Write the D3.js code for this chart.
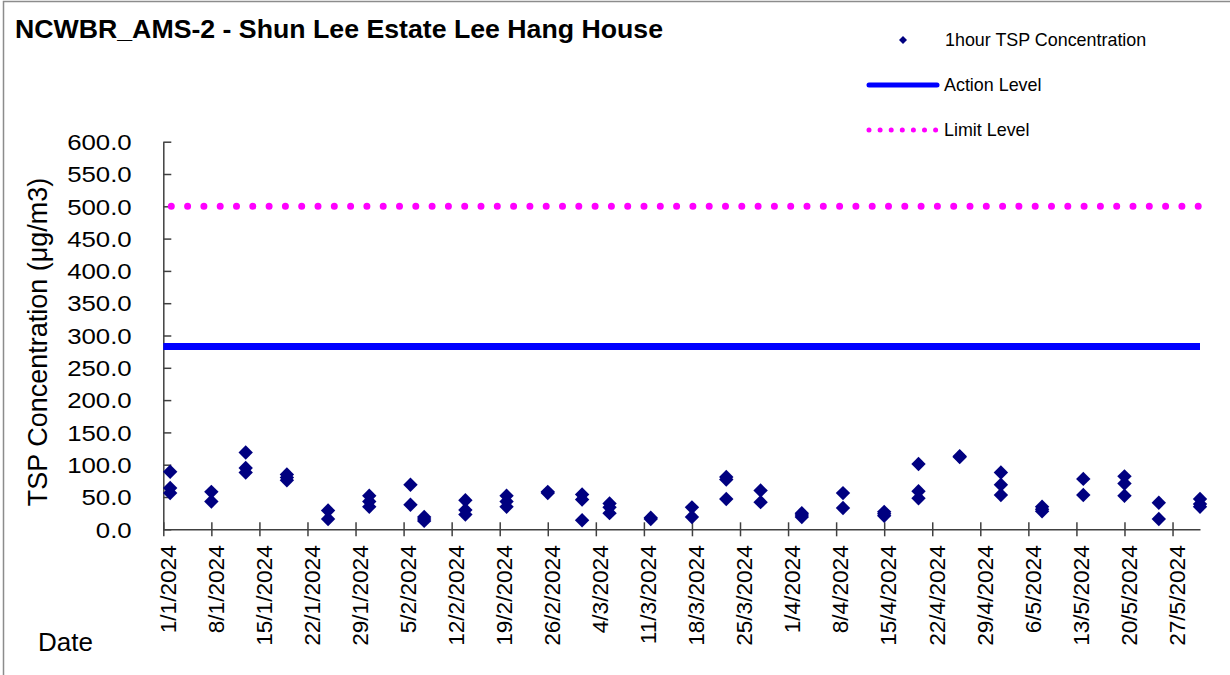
<!DOCTYPE html>
<html>
<head>
<meta charset="utf-8">
<script src="https://cdn.jsdelivr.net/npm/d3@7"></script>
<style>
  body { margin: 0; background: #fff; }
  svg text { font-family: "Liberation Sans", Arial, sans-serif; fill: #000; }
</style>
</head>
<body>
<div id="chart"></div>
<script>
// Width and height
var w = 1230;
var h = 675;

// sampling days and the 1-hour TSP readings of each day (ug/m3)
var sampleDates = ["2024-01-02", "2024-01-08", "2024-01-13", "2024-01-19", "2024-01-25", "2024-01-31",
                   "2024-02-06", "2024-02-08", "2024-02-14", "2024-02-20", "2024-02-26", "2024-03-02",
                   "2024-03-06", "2024-03-12", "2024-03-18", "2024-03-23", "2024-03-28", "2024-04-03",
                   "2024-04-09", "2024-04-15", "2024-04-20", "2024-04-26", "2024-05-02", "2024-05-08",
                   "2024-05-14", "2024-05-20", "2024-05-25", "2024-05-31"];
var tspValues = [[89, 64, 56], [58, 43], [119, 95, 88], [85, 80, 76], [29, 16], [52, 43, 35],
                 [69, 38], [19, 16, 13], [45, 30, 23], [52, 43, 35], [58, 56], [54, 46, 14],
                 [40, 34, 25], [18, 16], [34, 19], [81, 77, 47], [60, 42], [25, 22, 19],
                 [56, 33], [27, 24, 21], [101, 59, 48], [113, 112], [88, 69, 53], [35, 31, 28],
                 [78, 53], [82, 71, 52], [41, 16], [47, 39, 35]];
var actionLevel = 283;
var limitLevel = 500;
var xDomain = ["2024-01-01", "2024-05-31"];
var yTicks = [0, 50, 100, 150, 200, 250, 300, 350, 400, 450, 500, 550, 600];

var parseDate = d3.timeParse("%Y-%m-%d");

var points = [];
sampleDates.forEach(function(d, i) {
    tspValues[i].forEach(function(v) {
        points.push({date: parseDate(d), value: v});
    });
});

// Scales
var xScale = d3.scaleTime()
    .domain(xDomain.map(parseDate))
    .range([163.3, 1200]);

var yScale = d3.scaleLinear()
    .domain([0, 600])
    .range([529.3, 141.7]);

var svg = d3.select("#chart")
    .append("svg")
    .attr("width", w)
    .attr("height", h);

// chart border
svg.append("rect")
    .attr("x", 3.5).attr("y", 1.5)
    .attr("width", 1240).attr("height", 700)
    .attr("fill", "none")
    .attr("stroke", "#8c8c8c")
    .attr("stroke-width", 1.5);

// Title
svg.append("text")
    .attr("x", 15).attr("y", 38)
    .attr("font-size", "26.7px")
    .attr("font-weight", "bold")
    .text("NCWBR_AMS-2 - Shun Lee Estate Lee Hang House");

// Y axis
var yAxis = d3.axisLeft(yScale)
    .tickValues(yTicks)
    .tickSizeInner(-8)
    .tickSizeOuter(0)
    .tickFormat(d3.format(".1f"));

var gy = svg.append("g")
    .attr("transform", "translate(" + xScale.range()[0] + ",0)")
    .call(yAxis);
gy.select(".domain").attr("stroke", "#404040").attr("stroke-width", 1.5);
gy.selectAll(".tick line").attr("stroke", "#404040").attr("stroke-width", 1.5);
gy.selectAll(".tick text")
    .attr("x", null)
    .attr("dy", "0.36em")
    .attr("transform", "translate(-31.6,0) scale(1.2,1)")
    .attr("font-size", "21.5px")
    .attr("font-family", null)
    .attr("fill", "#000");

// X axis
var xAxis = d3.axisBottom(xScale)
    .ticks(d3.timeMonday.every(1))
    .tickSizeInner(7)
    .tickSizeOuter(0)
    .tickPadding(16)
    .tickFormat(d3.timeFormat("%-d/%-m/%Y"));

var gx = svg.append("g")
    .attr("transform", "translate(0," + yScale(0) + ")")
    .call(xAxis);
gx.select(".domain").attr("stroke", "#404040").attr("stroke-width", 1.5);
gx.selectAll(".tick line")
    .attr("y1", -7)
    .attr("stroke", "#404040")
    .attr("stroke-width", 1.5);
gx.selectAll(".tick text")
    .attr("font-size", "22.6px")
    .attr("font-family", null)
    .attr("fill", "#000")
    .attr("text-anchor", "end")
    .attr("transform", "rotate(-90)")
    .attr("x", -16)
    .attr("y", 0)
    .attr("dy", "0.52em");

// Axis titles
svg.append("text")
    .attr("transform", "translate(47,342) rotate(-90)")
    .attr("text-anchor", "middle")
    .attr("font-size", "27px")
    .text("TSP Concentration (\u03bcg/m3)");

svg.append("text")
    .attr("x", 38).attr("y", 651)
    .attr("font-size", "26px")
    .text("Date");

// Limit level (dotted)
svg.append("line")
    .attr("x1", xScale.range()[0] + 8).attr("x2", xScale.range()[1])
    .attr("y1", yScale(limitLevel)).attr("y2", yScale(limitLevel))
    .attr("stroke", "#ff00ff")
    .attr("stroke-width", 7)
    .attr("stroke-linecap", "round")
    .attr("stroke-dasharray", "0,16.3");

// Action level
svg.append("line")
    .attr("x1", xScale.range()[0]).attr("x2", xScale.range()[1])
    .attr("y1", yScale(actionLevel)).attr("y2", yScale(actionLevel))
    .attr("stroke", "#0000ff")
    .attr("stroke-width", 7);

// Points
function diamond(r) {
    return "M0," + (-r) + "L" + r + ",0L0," + r + "L" + (-r) + ",0Z";
}

svg.selectAll("path.pt")
   .data(points)
   .enter()
   .append("path")
   .attr("class", "pt")
   .attr("d", diamond(7.2))
   .attr("transform", function(d) {
        return "translate(" + xScale(d.date) + "," + yScale(d.value) + ")";
   })
   .attr("fill", "#000080");

// Legend
var legend = svg.append("g");
legend.append("path")
    .attr("d", diamond(4))
    .attr("transform", "translate(903,40)")
    .attr("fill", "#000080");
legend.append("text")
    .attr("x", 945).attr("y", 40).attr("dy", "0.36em")
    .attr("font-size", "17.9px")
    .text("1hour TSP Concentration");

legend.append("line")
    .attr("x1", 869).attr("x2", 937)
    .attr("y1", 85).attr("y2", 85)
    .attr("stroke", "#0000ff")
    .attr("stroke-width", 5)
    .attr("stroke-linecap", "round");
legend.append("text")
    .attr("x", 944).attr("y", 85).attr("dy", "0.36em")
    .attr("font-size", "17.9px")
    .text("Action Level");

legend.append("line")
    .attr("x1", 869).attr("x2", 937)
    .attr("y1", 130).attr("y2", 130)
    .attr("stroke", "#ff00ff")
    .attr("stroke-width", 5)
    .attr("stroke-linecap", "round")
    .attr("stroke-dasharray", "0,11.1");
legend.append("text")
    .attr("x", 944).attr("y", 130).attr("dy", "0.36em")
    .attr("font-size", "17.9px")
    .text("Limit Level");
</script>
</body>
</html>
